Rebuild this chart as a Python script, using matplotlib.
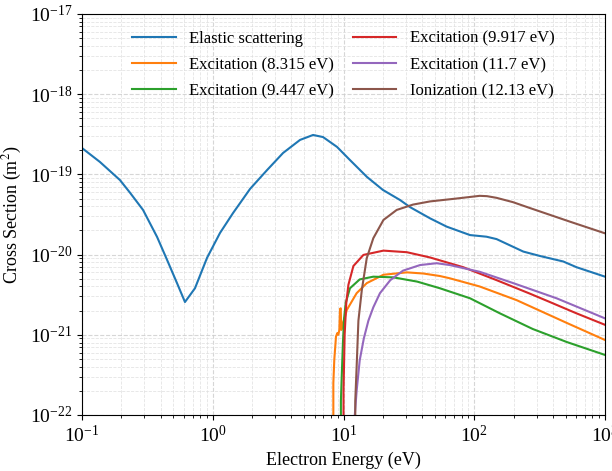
import numpy as np
import matplotlib
matplotlib.use("Agg")
import matplotlib.pyplot as plt

plt.rcParams['font.family'] = ['Liberation Serif', 'DejaVu Serif']
plt.rcParams['mathtext.fontset'] = 'stix'

# Elastic scattering
el_E = [0.1, 0.137, 0.195, 0.233, 0.293, 0.375, 0.447, 0.533, 0.613, 0.731, 0.904, 1.136, 1.43,
        1.62, 1.93, 2.6, 3.45, 4.65, 5.85, 6.97, 8.92, 11.2, 15.1, 20, 27, 32.3, 45.9, 61.5,
        92.8, 124, 148, 237, 318, 479, 606, 1000]
el_S = [2.13e-19, 1.43e-19, 8.5e-20, 5.9e-20, 3.6e-20, 1.66e-20, 8.6e-21, 4.4e-21, 2.56e-21,
        3.8e-21, 9.1e-21, 1.86e-20, 3.3e-20, 4.4e-20, 6.6e-20, 1.13e-19, 1.85e-19, 2.69e-19,
        3.1e-19, 2.92e-19, 2.2e-19, 1.51e-19, 9.3e-20, 6.4e-20, 4.8e-20, 3.9e-20, 2.83e-20,
        2.23e-20, 1.75e-20, 1.67e-20, 1.56e-20, 1.09e-20, 9.6e-21, 8.2e-21, 6.95e-21, 5.3e-21]

# Excitation 8.315 eV
ex1_E = [8.315, 8.36, 8.5, 8.76, 8.97, 9.13, 9.29, 9.40, 9.52, 9.62, 9.79, 10.27, 10.6, 12.6,
         15.05, 20.2, 30.5, 40.9, 54.6, 65, 110, 211, 512, 1000]
ex1_S = [0, 2.5e-22, 4.85e-22, 9.5e-22, 1.05e-21, 1.0e-21, 1.15e-21, 2.08e-21, 2.14e-21,
         1.15e-21, 1.33e-21, 1.68e-21, 2.04e-21, 3.3e-21, 4.4e-21, 5.6e-21, 6.0e-21, 5.8e-21,
         5.4e-21, 5.06e-21, 4.0e-21, 2.7e-21, 1.4e-21, 8.6e-22]

# Excitation 9.447 eV
ex2_E = [9.447, 9.55, 9.75, 9.9, 10.1, 10.4, 11.2, 13.3, 16.9, 24, 36.6, 54.6, 92.8, 157, 280,
         512, 1000]
ex2_S = [0, 1.5e-22, 4.0e-22, 8.0e-22, 1.6e-21, 2.5e-21, 3.8e-21, 4.9e-21, 5.3e-21, 5.2e-21,
         4.6e-21, 3.8e-21, 2.85e-21, 1.85e-21, 1.18e-21, 8.1e-22, 5.6e-22]

# Excitation 9.917 eV
ex3_E = [9.917, 10.0, 10.2, 10.5, 10.9, 11.9, 14.2, 20.2, 30.5, 45.9, 82.5, 148, 267, 370, 600,
         1000]
ex3_S = [0, 2.0e-22, 1.0e-21, 2.5e-21, 4.2e-21, 7.2e-21, 9.9e-21, 1.12e-20, 1.07e-20, 9.2e-21,
         6.95e-21, 4.8e-21, 3.25e-21, 2.6e-21, 1.86e-21, 1.33e-21]

# Excitation 11.7 eV
ex4_E = [11.7, 12.2, 12.6, 13.3, 14.3, 15.5, 16.9, 19, 22.8, 28.5, 38.5, 51.5, 65, 110, 199,
         426, 1000]
ex4_S = [0, 1.0e-22, 2.0e-22, 4.8e-22, 9.0e-22, 1.5e-21, 2.2e-21, 3.3e-21, 4.8e-21, 6.3e-21,
         7.4e-21, 7.8e-21, 7.4e-21, 6.1e-21, 4.4e-21, 2.85e-21, 1.6e-21]

# Ionization 12.13 eV
ion_E = [12.13, 12.3, 12.6, 13.0, 13.8, 15.05, 16.9, 20.2, 25.5, 34, 45.9, 73.4, 110, 125, 148,
         198, 267, 540, 1000]
ion_S = [0, 1.5e-22, 4.0e-22, 1.5e-21, 3.6e-21, 9.0e-21, 1.6e-20, 2.7e-20, 3.6e-20, 4.2e-20,
         4.6e-20, 5.0e-20, 5.4e-20, 5.35e-20, 5.1e-20, 4.5e-20, 3.8e-20, 2.57e-20, 1.84e-20]

series = [
    (el_E, el_S, 'Elastic scattering', '#1f77b4'),
    (ex1_E, ex1_S, 'Excitation (8.315 eV)', '#ff7f0e'),
    (ex2_E, ex2_S, 'Excitation (9.447 eV)', '#2ca02c'),
    (ex3_E, ex3_S, 'Excitation (9.917 eV)', '#d62728'),
    (ex4_E, ex4_S, 'Excitation (11.7 eV)', '#9467bd'),
    (ion_E, ion_S, 'Ionization (12.13 eV)', '#8c564b'),
]

fig = plt.figure(figsize=(6.12, 4.71), dpi=100)
ax = fig.add_axes([0.134, 0.119, 0.8546, 0.8513])
for E, S, lab, c in series:
    ax.plot(E, S, color=c, lw=1.5, label=lab)

ax.set_xscale('log')
ax.set_yscale('log', nonpositive='clip')
ax.set_xlim(0.1, 1000)
ax.set_ylim(1e-22, 1e-17)
ax.grid(True, which='major', ls='--', color='#cccccc', lw=0.8, alpha=0.8)
ax.grid(True, which='minor', ls='--', color='#dddddd', lw=0.6, alpha=0.8)
ax.tick_params(labelsize=14)
ax.set_xlabel('Electron Energy (eV)', fontsize=13)
ax.set_ylabel('Cross Section (m$^2$)', fontsize=13)
ax.legend(ncol=2, frameon=False, fontsize=12, loc='upper center',
          bbox_to_anchor=(0.5, 0.996), columnspacing=1.15, handlelength=2.6,
          labelspacing=0.62)
fig.savefig('out.png', dpi=100)
